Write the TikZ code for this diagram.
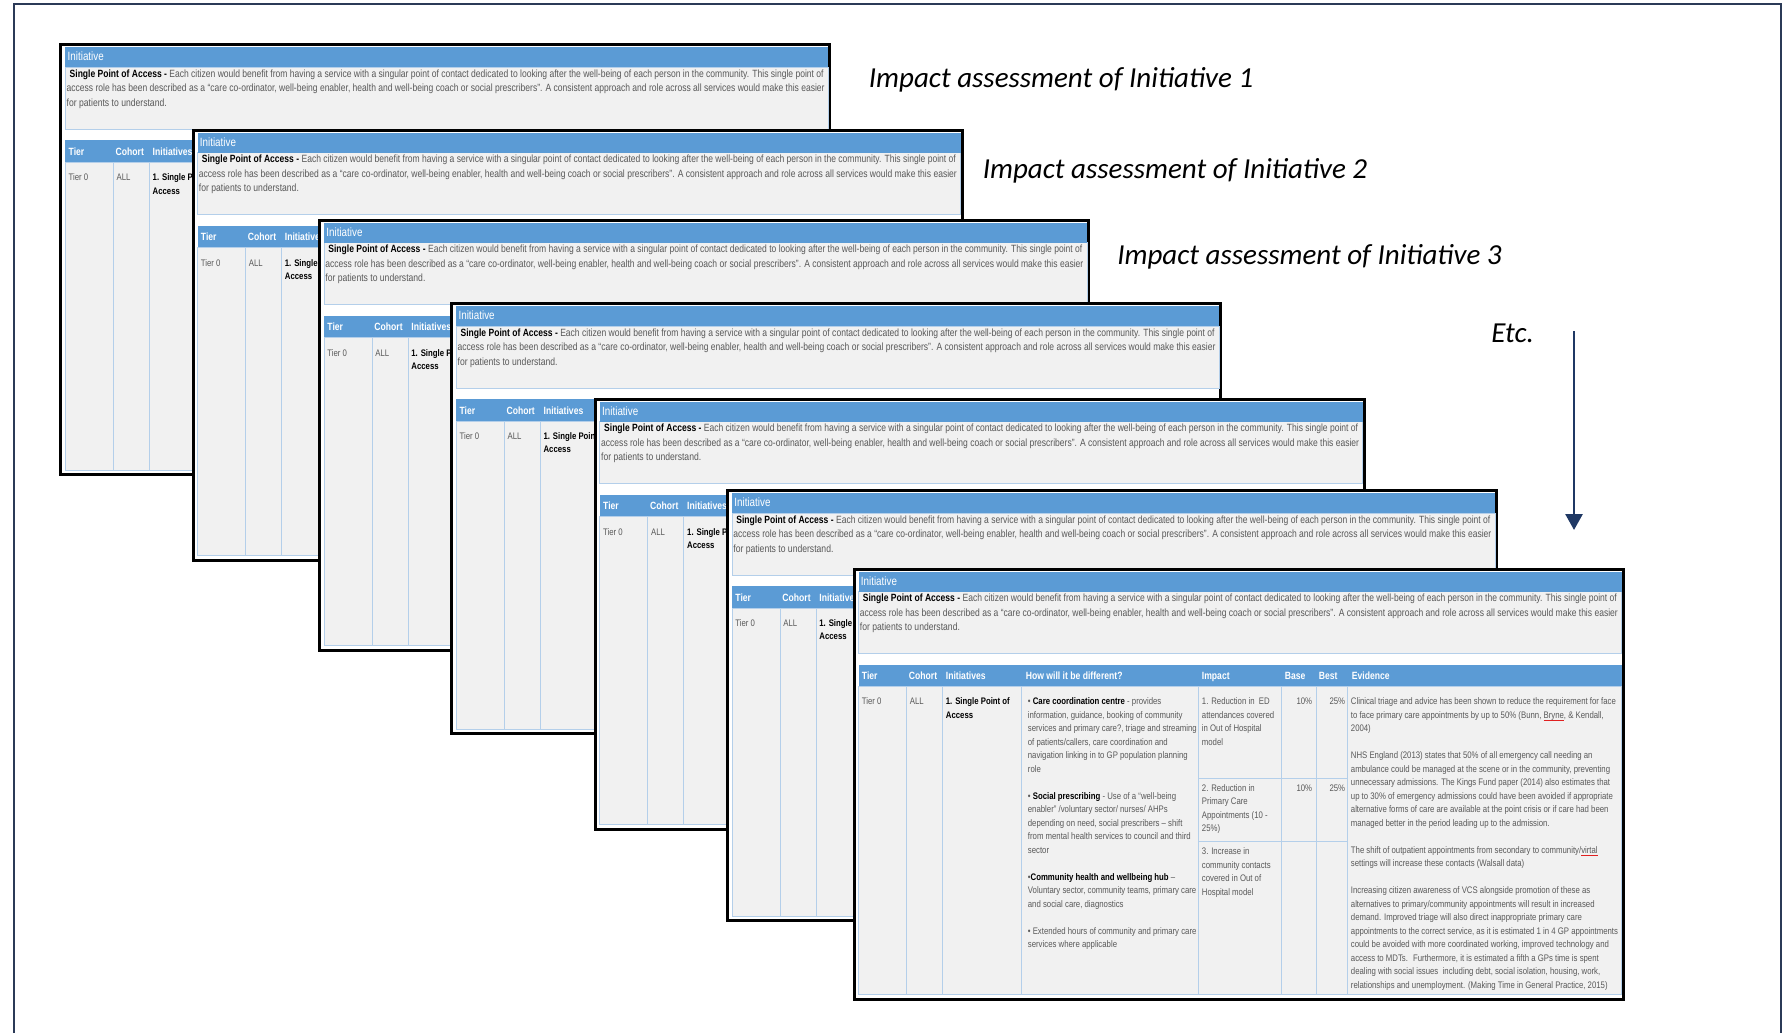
\documentclass[tikz,border=0pt]{standalone}
\usepackage{fontspec}
\usepackage{graphicx}
\usetikzlibrary{arrows.meta}

\newfontfamily\narrowfont[FakeStretch=0.82]{Liberation Sans}
\newfontfamily\calfont{Carlito}

\definecolor{hdrblue}{HTML}{5B9BD5}
\definecolor{cellgray}{HTML}{F1F1F1}
\definecolor{gridblue}{HTML}{B4CFEA}
\definecolor{bodygray}{HTML}{595959}
\definecolor{navy}{HTML}{1F3864}
\definecolor{framenavy}{HTML}{2B3A57}
\definecolor{spellred}{HTML}{E02020}

\newcommand\bodyfont{\narrowfont\fontsize{4.75pt}{6.75pt}\selectfont}
\newcommand\descfont{\narrowfont\fontsize{5.25pt}{7.25pt}\selectfont}
\newcommand\titlefont{\narrowfont\fontsize{6pt}{7pt}\selectfont}
\newcommand\thfont{\narrowfont\bfseries\fontsize{5.25pt}{6pt}\selectfont}
\newcommand\bk[1]{\textcolor{black}{\textbf{#1}}}

% stretch or squeeze one line of text horizontally to a given width
\newsavebox\fitbox
\newcommand\fitline[2]{\sbox\fitbox{#2}\pgfmathsetmacro\fitratio{#1/\the\wd\fitbox}\scalebox{\fitratio}[1]{\usebox\fitbox}}

% word flagged by the spell checker: thin red underline
\newsavebox\markbox
\newcommand\spellmark[1]{\sbox\markbox{#1}\rlap{\textcolor{spellred}{\rule[-0.9pt]{\wd\markbox}{0.3pt}}}\usebox\markbox}

\tikzset{
  cardline/.style={draw=black, fill=white, line width=1.5pt},
  bluebar/.style={fill=hdrblue},
  graycell/.style={fill=cellgray, draw=gridblue, line width=0.5pt},
  grid/.style={draw=gridblue, line width=0.5pt},
  hdrtxt/.style={anchor=base west, inner sep=0pt, font=\titlefont, text=white},
  thtxt/.style={anchor=base west, inner sep=0pt, font=\thfont, text=white},
  desctxt/.style={anchor=base west, inner sep=0pt, font=\descfont, text=bodygray},
  cell/.style={anchor=base west, inner sep=0pt, font=\bodyfont, text=bodygray},
  numcell/.style={anchor=base east, inner sep=0pt, font=\bodyfont, text=bodygray},
  caption/.style={anchor=base west, inner sep=0pt, font=\calfont\itshape\fontsize{14.5pt}{17pt}\selectfont, text=black},
}

% one complete impact assessment sheet;
% #1 = name prefix, (#2,#3) = top left corner
\newcommand\impactcard[3]{%
\begin{scope}[shift={(#2,#3)}]
  \path[cardline] (1.5,1.5) rectangle (770.5,431.5);
  \path[graycell] (6,24) rectangle (769,86);
  \path[bluebar] (6,4) rectangle (769,24);
  \path[bluebar] (6,97) rectangle (769,119);
  \path[graycell] (6,119) rectangle (769,427);
  \foreach \cx in {54,90,169,346,429,464,495} \draw[grid] (\cx,119) -- (\cx,427);
  \draw[grid] (346,211) -- (495,211) (346,274) -- (495,274);
  % sheet title and description
  \node[hdrtxt] (#1-title) at (8,17.5) {Initiative};
  \node[desctxt] (#1-d1) at (10,34) {\fitline{377pt}{\bk{Single Point of Access -} Each citizen would benefit from having a service with a singular point of contact dedicated to looking after the well-being of each person in the community. This single point of}};
  \node[desctxt] (#1-d2) at (7,48.5) {\fitline{379pt}{access role has been described as a “care co-ordinator, well-being enabler, health and well-being coach or social prescribers”. A consistent approach and role across all services would make this easier}};
  \node[desctxt] (#1-d3) at (7,63) {for patients to understand.};
  % table head
  \node[thtxt] (#1-h1) at (9,112) {Tier};
  \node[thtxt] (#1-h2) at (56,112) {Cohort};
  \node[thtxt] (#1-h3) at (93,112) {Initiatives};
  \node[thtxt] (#1-h4) at (173,112) {How will it be different?};
  \node[thtxt] (#1-h5) at (349,112) {Impact};
  \node[thtxt] (#1-h6) at (432,112) {Base};
  \node[thtxt] (#1-h7) at (466,112) {Best};
  \node[thtxt] (#1-h8) at (499,112) {Evidence};
  % table body
  \node[cell] (#1-tier) at (9,137.2) {Tier 0};
  \node[cell] (#1-cohort) at (57,137.2) {ALL};
  \node[cell] (#1-init) at (93,137.2) {\begin{tabular}[t]{@{}l@{}}\bk{1. Single Point of}\\\bk{Access}\end{tabular}};
  \node[cell] (#1-how) at (175,137.2) {\begin{tabular}[t]{@{}l@{}}%
    • \bk{Care coordination centre} - provides\\
    information, guidance, booking of community\\
    services and primary care?, triage and streaming\\
    of patients/callers, care coordination and\\
    navigation linking in to GP population planning\\
    role\\[6.75pt]
    • \bk{Social prescribing} - Use of a “well-being\\
    enabler” /voluntary sector/ nurses/ AHPs\\
    depending on need, social prescribers – shift\\
    from mental health services to council and third\\
    sector\\[6.75pt]
    •\bk{Community health and wellbeing hub} –\\
    Voluntary sector, community teams, primary care\\
    and social care, diagnostics\\[6.75pt]
    • Extended hours of community and primary care\\
    services where applicable\end{tabular}};
  \node[cell] (#1-imp1) at (349,137.2) {\begin{tabular}[t]{@{}l@{}}1. Reduction in~ ED\\attendances covered\\in Out of Hospital\\model\end{tabular}};
  \node[cell] (#1-imp2) at (349,223.8) {\begin{tabular}[t]{@{}l@{}}2. Reduction in\\Primary Care\\Appointments (10 -\\25\%)\end{tabular}};
  \node[cell] (#1-imp3) at (349,287.2) {\begin{tabular}[t]{@{}l@{}}3. Increase in\\community contacts\\covered in Out of\\Hospital model\end{tabular}};
  \node[numcell] (#1-base1) at (460,137.2) {10\%};
  \node[numcell] (#1-base2) at (460,223.8) {10\%};
  \node[numcell] (#1-best1) at (493,137.2) {25\%};
  \node[numcell] (#1-best2) at (493,223.8) {25\%};
  \node[cell] (#1-evid) at (498,137.2) {\begin{tabular}[t]{@{}l@{}}%
    Clinical triage and advice has been shown to reduce the requirement for face\\
    to face primary care appointments by up to 50\% (Bunn, \spellmark{Bryne}, \& Kendall,\\
    2004)\\[6.75pt]
    NHS England (2013) states that 50\% of all emergency call needing an\\
    ambulance could be managed at the scene or in the community, preventing\\
    unnecessary admissions. The Kings Fund paper (2014) also estimates that\\
    up to 30\% of emergency admissions could have been avoided if appropriate\\
    alternative forms of care are available at the point crisis or if care had been\\
    managed better in the period leading up to the admission.\\[6.75pt]
    The shift of outpatient appointments from secondary to community/\spellmark{virtal}\\
    settings will increase these contacts (Walsall data)\\[6.75pt]
    Increasing citizen awareness of VCS alongside promotion of these as\\
    alternatives to primary/community appointments will result in increased\\
    demand. Improved triage will also direct inappropriate primary care\\
    appointments to the correct service, as it is estimated 1 in 4 GP appointments\\
    could be avoided with more coordinated working, improved technology and\\
    access to MDTs.~ Furthermore, it is estimated a fifth a GPs time is spent\\
    dealing with social issues~ including debt, social isolation, housing, work,\\
    relationships and unemployment. (Making Time in General Practice, 2015)\end{tabular}};
\end{scope}}

\begin{document}
\begin{tikzpicture}[x=0.5pt, y=-0.5pt]
  \useasboundingbox (0,0) rectangle (1787,1033);
  \fill[white] (0,0) rectangle (1787,1033);
  % open frame around the page
  \draw[framenavy, line width=1pt] (14,1033) -- (14,4) -- (1781,4) -- (1781,1033);

  % stacked sheets, back to front
  \impactcard{s1}{59.3}{43.3}
  \impactcard{s2}{191.5}{128.8}
  \impactcard{s3}{318}{218.8}
  \impactcard{s4}{450.2}{302}
  \impactcard{s5}{593.8}{397.8}
  \impactcard{s6}{726}{489}
  \impactcard{s7}{852.5}{567.6}

  % captions
  \node[caption] (cap1) at (868.5,87.6) {Impact assessment of Initiative 1};
  \node[caption] (cap2) at (982.4,178.8) {Impact assessment of Initiative 2};
  \node[caption] (cap3) at (1116.9,264.3) {Impact assessment of Initiative 3};
  \node[caption] (etc) at (1491,342) {Etc.};

  % downward arrow
  \coordinate (arrtop) at (1574,331);
  \coordinate (arrtip) at (1574,530);
  \draw[navy, line width=1.35pt, -{Triangle[length=8pt, width=8.5pt]}] (arrtop) -- (arrtip);
\end{tikzpicture}
\end{document}
